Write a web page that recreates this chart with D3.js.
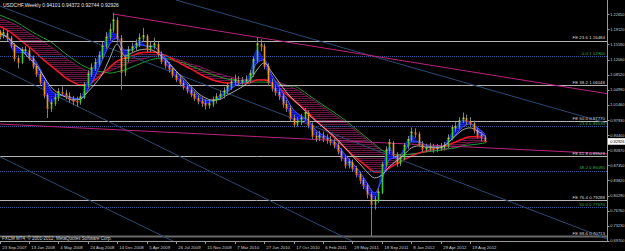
<!DOCTYPE html>
<html><head><meta charset="utf-8">
<script src="https://cdn.jsdelivr.net/npm/d3@7"></script>
<style>
body{margin:0;background:#000;overflow:hidden}
svg{display:block}
text{font-family:"Liberation Sans",Arial,sans-serif}
</style>
</head><body>
<svg id="c" width="625" height="251"></svg>
<script>
// ---------- data ----------
const startDate = "2007-09-23";      // first bar (biweekly bars)
const barStepDays = 14;
const maStepDays = 28;
const closes = [1.176,1.183,1.171,1.155,1.124,1.115,1.143,1.143,1.124,1.106,
 1.087,1.068,1.038,1.007,1.019,1.031,1.045,1.043,1.036,1.029,
 1.024,1.022,1.033,1.061,1.087,1.101,1.113,1.129,1.152,1.173,
 1.190,1.213,1.171,1.092,1.124,1.143,1.150,1.157,1.171,1.176,
 1.145,1.152,1.157,1.134,1.117,1.108,1.099,1.085,1.075,1.066,
 1.057,1.050,1.040,1.031,1.024,1.019,1.014,1.017,1.026,1.033,
 1.038,1.047,1.057,1.068,1.073,1.068,1.071,1.073,1.087,1.120,
 1.157,1.152,1.106,1.068,1.054,1.045,1.036,1.017,1.007,0.984,
 0.970,0.975,0.984,0.996,0.968,0.942,0.937,0.942,0.937,0.933,
 0.928,0.921,0.907,0.891,0.874,0.881,0.867,0.853,0.839,0.827,
 0.806,0.783,0.792,0.811,0.874,0.909,0.926,0.898,0.879,0.891,
 0.919,0.933,0.951,0.947,0.923,0.912,0.914,0.916,0.912,0.914,
 0.916,0.919,0.937,0.961,0.963,0.977,0.984,0.977,0.972,0.956,
 0.944,0.940,0.929];
const highs = [1.190,1.192,1.188,1.176,1.160,1.130,1.150,1.152,1.148,1.130,
 1.111,1.092,1.072,1.042,1.028,1.040,1.054,1.058,1.050,1.044,
 1.036,1.034,1.042,1.068,1.096,1.112,1.124,1.140,1.162,1.185,
 1.205,1.230,1.220,1.178,1.132,1.152,1.160,1.168,1.182,1.195,
 1.180,1.162,1.172,1.162,1.140,1.124,1.115,1.104,1.092,1.082,
 1.072,1.064,1.056,1.046,1.038,1.032,1.027,1.028,1.034,1.042,
 1.048,1.056,1.066,1.078,1.086,1.082,1.080,1.084,1.096,1.128,
 1.172,1.168,1.158,1.112,1.076,1.062,1.052,1.042,1.026,1.014,
 0.992,0.986,0.994,1.008,1.002,0.974,0.952,0.954,0.952,0.946,
 0.942,0.936,0.928,0.913,0.898,0.890,0.887,0.872,0.858,0.845,
 0.832,0.812,0.802,0.820,0.882,0.918,0.935,0.930,0.904,0.900,
 0.926,0.942,0.962,0.960,0.952,0.930,0.924,0.926,0.924,0.923,
 0.926,0.928,0.946,0.968,0.974,0.986,0.997,0.992,0.986,0.978,
 0.962,0.952,0.944];
const lows = [1.168,1.170,1.164,1.148,1.116,1.100,1.110,1.134,1.118,1.099,
 1.080,1.060,1.030,0.984,0.998,1.012,1.024,1.036,1.028,1.020,
 1.014,1.010,1.015,1.028,1.055,1.080,1.094,1.106,1.122,1.146,
 1.165,1.184,1.160,1.050,1.082,1.115,1.136,1.142,1.150,1.163,
 1.138,1.138,1.145,1.126,1.110,1.100,1.090,1.078,1.068,1.058,
 1.050,1.042,1.033,1.024,1.016,1.010,1.004,1.006,1.010,1.018,
 1.026,1.030,1.040,1.050,1.060,1.058,1.060,1.063,1.066,1.080,
 1.112,1.140,1.098,1.060,1.046,1.036,1.026,1.008,0.998,0.976,
 0.962,0.964,0.968,0.978,0.960,0.934,0.928,0.930,0.928,0.924,
 0.920,0.913,0.899,0.883,0.866,0.866,0.858,0.845,0.830,0.818,
 0.796,0.708,0.770,0.786,0.806,0.868,0.900,0.890,0.870,0.872,
 0.886,0.912,0.928,0.938,0.916,0.904,0.904,0.906,0.903,0.904,
 0.907,0.908,0.914,0.932,0.952,0.958,0.972,0.968,0.964,0.948,
 0.936,0.930,0.927];

// moving-average ribbons (4-weekly readings)
const fastA = [1.178,1.173,1.138,1.136,1.129,1.096,1.054,1.019,1.038,1.038,1.026,1.031,1.073,1.110,1.148,1.185,1.178,1.131,1.148,1.166,1.152,1.152,1.124,1.101,1.078,1.059,1.042,1.026,1.017,1.024,1.038,1.054,1.071,1.071,1.087,1.143,1.115,1.061,1.038,1.012,0.979,0.982,0.968,0.942,0.937,0.930,0.909,0.881,0.867,0.842,0.811,0.795,0.862,0.916,0.886,0.914,0.944,0.926,0.916,0.914,0.916,0.935,0.961,0.979,0.975,0.949,0.933];
const fastB = [1.180,1.176,1.155,1.145,1.134,1.115,1.082,1.050,1.038,1.035,1.031,1.028,1.050,1.082,1.120,1.157,1.171,1.143,1.143,1.155,1.152,1.150,1.136,1.115,1.094,1.073,1.054,1.038,1.026,1.024,1.031,1.045,1.059,1.066,1.075,1.113,1.120,1.085,1.057,1.031,1.003,0.989,0.979,0.956,0.944,0.935,0.921,0.898,0.879,0.858,0.832,0.809,0.839,0.886,0.893,0.905,0.928,0.928,0.921,0.916,0.916,0.926,0.944,0.963,0.970,0.961,0.947];
const whiteMA = [1.183,1.173,1.157,1.143,1.124,1.108,1.082,1.057,1.042,1.033,1.026,1.028,1.045,1.064,1.087,1.124,1.157,1.129,1.136,1.143,1.145,1.141,1.129,1.113,1.094,1.078,1.059,1.042,1.031,1.026,1.028,1.038,1.047,1.057,1.071,1.096,1.113,1.092,1.068,1.045,1.026,1.010,0.993,0.977,0.963,0.949,0.933,0.914,0.895,0.877,0.858,0.844,0.851,0.870,0.884,0.898,0.914,0.919,0.916,0.916,0.916,0.926,0.942,0.956,0.961,0.954,0.942];
const slowA = [1.199,1.190,1.178,1.164,1.150,1.136,1.120,1.106,1.092,1.078,1.068,1.061,1.061,1.073,1.087,1.103,1.117,1.124,1.129,1.136,1.138,1.138,1.134,1.127,1.117,1.108,1.099,1.089,1.080,1.073,1.068,1.066,1.066,1.066,1.066,1.073,1.073,1.066,1.054,1.040,1.026,1.012,0.996,0.979,0.963,0.947,0.930,0.914,0.898,0.884,0.870,0.858,0.858,0.867,0.877,0.886,0.895,0.902,0.907,0.912,0.916,0.921,0.928,0.935,0.940,0.940,0.937];
const slowB = [1.218,1.211,1.204,1.194,1.183,1.173,1.162,1.150,1.138,1.124,1.113,1.101,1.094,1.089,1.089,1.094,1.101,1.108,1.115,1.120,1.124,1.129,1.129,1.127,1.122,1.117,1.110,1.106,1.099,1.092,1.087,1.082,1.078,1.075,1.073,1.073,1.075,1.073,1.068,1.061,1.054,1.045,1.033,1.022,1.010,0.998,0.986,0.975,0.961,0.947,0.933,0.919,0.909,0.902,0.898,0.898,0.900,0.902,0.905,0.907,0.909,0.912,0.916,0.921,0.926,0.928,0.930];
const greenMA = [1.225,1.218,1.211,1.201,1.190,1.180,1.171,1.162,1.148,1.134,1.122,1.110,1.101,1.094,1.092,1.089,1.092,1.096,1.103,1.110,1.117,1.122,1.124,1.122,1.117,1.113,1.106,1.099,1.092,1.085,1.080,1.075,1.073,1.071,1.068,1.068,1.068,1.066,1.064,1.059,1.059,1.050,1.038,1.026,1.014,1.003,0.991,0.979,0.965,0.951,0.937,0.923,0.909,0.902,0.898,0.898,0.900,0.902,0.905,0.907,0.909,0.912,0.914,0.919,0.921,0.923,0.926];

// axes
const priceLabels = ["1.22650","1.19120","1.15590","1.12060","1.08520","1.04990","1.01460","0.97930","0.94400","0.90870","0.87350","0.83820","0.80290","0.76760","0.73230","0.69700"];
const dateLabels = ["23 Sep 2007","13 Jan 2008","4 May 2008","24 Aug 2008","14 Dec 2008","5 Apr 2009","26 Jul 2009","15 Nov 2009","7 Mar 2010","27 Jun 2010","17 Oct 2010","6 Feb 2011","29 May 2011","18 Sep 2011","8 Jan 2012","29 Apr 2012","19 Aug 2012"];

// objects
const feLevels = [1.16484,1.06048,0.97770,0.89523,0.79288,0.70713];
const feNames  = ["FE 23.6","FE 38.2","FE 50.0","FE 61.8","FE 76.4","FE 88.6"];
const fiboLevels = [1.12900,0.96530,0.86090,0.77670];
const fiboNames  = ["0.0","23.6","38.2","50.0"];
const magentaLines = [["2008-11-30",1.227,"2011-02-06",1.148],["2007-09-23",0.970,"2011-02-06",0.933]];
const blueLines = [["2009-07-26",1.260,"2011-05-29",1.142],["2007-09-23",1.246,"2011-02-06",0.956],["2007-09-23",1.101,"2008-12-14",0.966],["2007-09-23",0.894,"2008-05-04",0.827]];
const headerText = "USDCHF,Weekly  0.94101 0.94372 0.92744 0.92926";
const lastPrice = 0.92926;
const copyright = "FXCM MT4, \u00A9 2001-2012, MetaQuotes Software Corp.";

// ---------- drawing ----------
const svg = d3.select("#c");
const R = 607, B = 241;
const parse = d3.utcParse("%Y-%m-%d");
const parseLbl = d3.utcParse("%d %b %Y");
const t0 = parse(startDate);
const x = d3.scaleUtc().domain([t0, parseLbl("19 Aug 2012")]).range([-0.5, 470.1]);
const y = d3.scaleLinear().domain([0.6989, 1.2599]).range([240, 0]);

svg.append("rect").attr("width",625).attr("height",251).attr("fill","#000");
const defs = svg.append("defs");
defs.append("clipPath").attr("id","clip").append("rect").attr("x",0).attr("y",0).attr("width",R).attr("height",B);
const pk = defs.append("pattern").attr("id","pinkHatch").attr("patternUnits","userSpaceOnUse").attr("width",4).attr("height",2);
pk.append("rect").attr("width",4).attr("height",2).attr("fill","#080004");
pk.append("rect").attr("width",4).attr("height",0.6).attr("fill","#a02464");
const bl = defs.append("pattern").attr("id","blueHatch").attr("patternUnits","userSpaceOnUse").attr("width",4).attr("height",2);
bl.append("rect").attr("width",4).attr("height",2).attr("fill","#0808a0");
bl.append("rect").attr("width",4).attr("height",1.2).attr("fill","#1c1ce8");

const g = svg.append("g").attr("clip-path","url(#clip)");

const maDates = fastA.map((_, k) => d3.utcDay.offset(t0, k*maStepDays));
const band = (a, b) => d3.area().curve(d3.curveMonotoneX)
  .x((d,k)=>x(maDates[k])).y0((d,k)=>y(a[k])).y1((d,k)=>y(b[k]));
const line = arr => d3.line().curve(d3.curveMonotoneX).x((d,k)=>x(maDates[k])).y((d,k)=>y(arr[k]));

// slow ribbon
g.append("path").datum(slowA).attr("d", band(slowA, slowB)).attr("fill","url(#pinkHatch)");
g.append("path").datum(slowB).attr("d", line(slowB)).attr("fill","none").attr("stroke","#8e2260").attr("stroke-width",0.8);
g.append("path").datum(greenMA).attr("d", line(greenMA)).attr("fill","none").attr("stroke","#1c9a36").attr("stroke-width",1);
g.append("path").datum(slowA).attr("d", line(slowA)).attr("fill","none").attr("stroke","#f01828").attr("stroke-width",1.5);

// horizontal levels
feLevels.forEach((v,i)=>{
  const last = i === feLevels.length-1;
  g.append("line").attr("x1",0).attr("x2",R).attr("y1",Math.round(y(v))+0.5).attr("y2",Math.round(y(v))+0.5)
   .attr("stroke", last ? "#6a6a6a" : "#b4b4b4").attr("stroke-width", last ? 2 : 1);
});
fiboLevels.forEach(v=>{
  g.append("line").attr("x1",0).attr("x2",R).attr("y1",Math.round(y(v))+0.5).attr("y2",Math.round(y(v))+0.5)
   .attr("stroke","#34589a").attr("stroke-width",1).attr("stroke-dasharray","1,1");
});

// trend rays
function ray(a, color){
  const x1 = x(parse(a[0])), y1 = y(a[1]), x2 = x(parse(a[2])), y2 = y(a[3]);
  const s = (y2-y1)/(x2-x1);
  g.append("line").attr("x1",x1).attr("y1",y1).attr("x2",R).attr("y2",y1+(R-x1)*s)
   .attr("stroke",color).attr("stroke-width",1);
}
blueLines.forEach(a=>ray(a,"#2b4a74"));
magentaLines.forEach(a=>ray(a,"#b8247e"));

// fast ribbon
g.append("path").datum(fastA).attr("d", band(fastA, fastB)).attr("fill","url(#blueHatch)");
g.append("path").datum(fastA).attr("d", line(fastA)).attr("fill","none").attr("stroke","#1c2cd0").attr("stroke-width",0.8);
g.append("path").datum(fastB).attr("d", line(fastB)).attr("fill","none").attr("stroke","#3d5cff").attr("stroke-width",1);
g.append("path").datum(whiteMA).attr("d", line(whiteMA)).attr("fill","none").attr("stroke","#d4d4d4").attr("stroke-width",0.8);

// price bars
const bars = closes.map((c,i)=>({d:d3.utcDay.offset(t0,i*barStepDays), o: i>0?closes[i-1]:highs[0]-0.004, h:highs[i], l:lows[i], c}));
const bg = g.append("g");
bars.forEach(b=>{
  const bx = Math.round(x(b.d))+0.5;
  bg.append("line").attr("x1",bx).attr("x2",bx).attr("y1",y(b.h)).attr("y2",y(b.l)).attr("stroke","#7e7e7e").attr("stroke-width",1);
  const up = b.c >= b.o;
  bg.append("line").attr("x1",bx).attr("x2",bx).attr("y1",y(Math.max(b.o,b.c))).attr("y2",y(Math.min(b.o,b.c))+0.8)
    .attr("stroke", up ? "#3ccf2c" : "#f39a1c").attr("stroke-width",1.6);
  bg.append("line").attr("x1",bx-1).attr("x2",bx+1).attr("y1",y(b.c)).attr("y2",y(b.c))
    .attr("stroke", up ? "#e8e020" : "#e83018").attr("stroke-width",1);
});

// level labels
feLevels.forEach((v,i)=>{
  svg.append("text").attr("x",605).attr("y",y(v)-1.2).attr("text-anchor","end")
    .attr("font-size",4.4).attr("fill","#d8d8d8").text(feNames[i]+" "+v.toFixed(5));
});
fiboLevels.forEach((v,i)=>{
  svg.append("text").attr("x",605).attr("y",y(v)-1.2).attr("text-anchor","end")
    .attr("font-size",4.4).attr("fill","#3aa84a").text(fiboNames[i]+" "+v.toFixed(5));
});

// frame / axes
svg.append("line").attr("x1",R+0.5).attr("x2",R+0.5).attr("y1",0).attr("y2",B+0.5).attr("stroke","#9a9a9a");
svg.append("line").attr("x1",0).attr("x2",R+0.5).attr("y1",B+0.5).attr("y2",B+0.5).attr("stroke","#9a9a9a");

priceLabels.forEach(s=>{
  const ty = y(+s);
  svg.append("line").attr("x1",R).attr("x2",R+2.5).attr("y1",Math.round(ty)+0.5).attr("y2",Math.round(ty)+0.5).attr("stroke","#9a9a9a");
  svg.append("text").attr("x",610.3).attr("y",ty+1.5).attr("font-size",3.9).attr("textLength",14.2).attr("lengthAdjust","spacingAndGlyphs")
    .attr("fill","#cfcfcf").text(s);
});
dateLabels.forEach(s=>{
  const tx = Math.round(x(parseLbl(s)))+0.5;
  svg.append("line").attr("x1",tx).attr("x2",tx).attr("y1",B).attr("y2",B+3).attr("stroke","#9a9a9a");
  svg.append("text").attr("x",tx+1.8).attr("y",248.6).attr("font-size",4.3).attr("fill","#cfcfcf").text(s);
});

// last price box
const ly = y(lastPrice);
svg.append("rect").attr("x",608).attr("y",ly-3.3).attr("width",17).attr("height",6.6).attr("fill","#ffffff");
svg.append("text").attr("x",610.3).attr("y",ly+1.5).attr("font-size",3.9).attr("textLength",14.2).attr("lengthAdjust","spacingAndGlyphs")
  .attr("fill","#000").text(lastPrice.toFixed(5));

// header & copyright
svg.append("text").attr("x",3).attr("y",7).attr("font-size",5).attr("fill","#e6e6e6").text(headerText);
svg.append("text").attr("x",2).attr("y",239.6).attr("font-size",4.5).attr("fill","#cfcfcf").text(copyright);
</script>
</body></html>
